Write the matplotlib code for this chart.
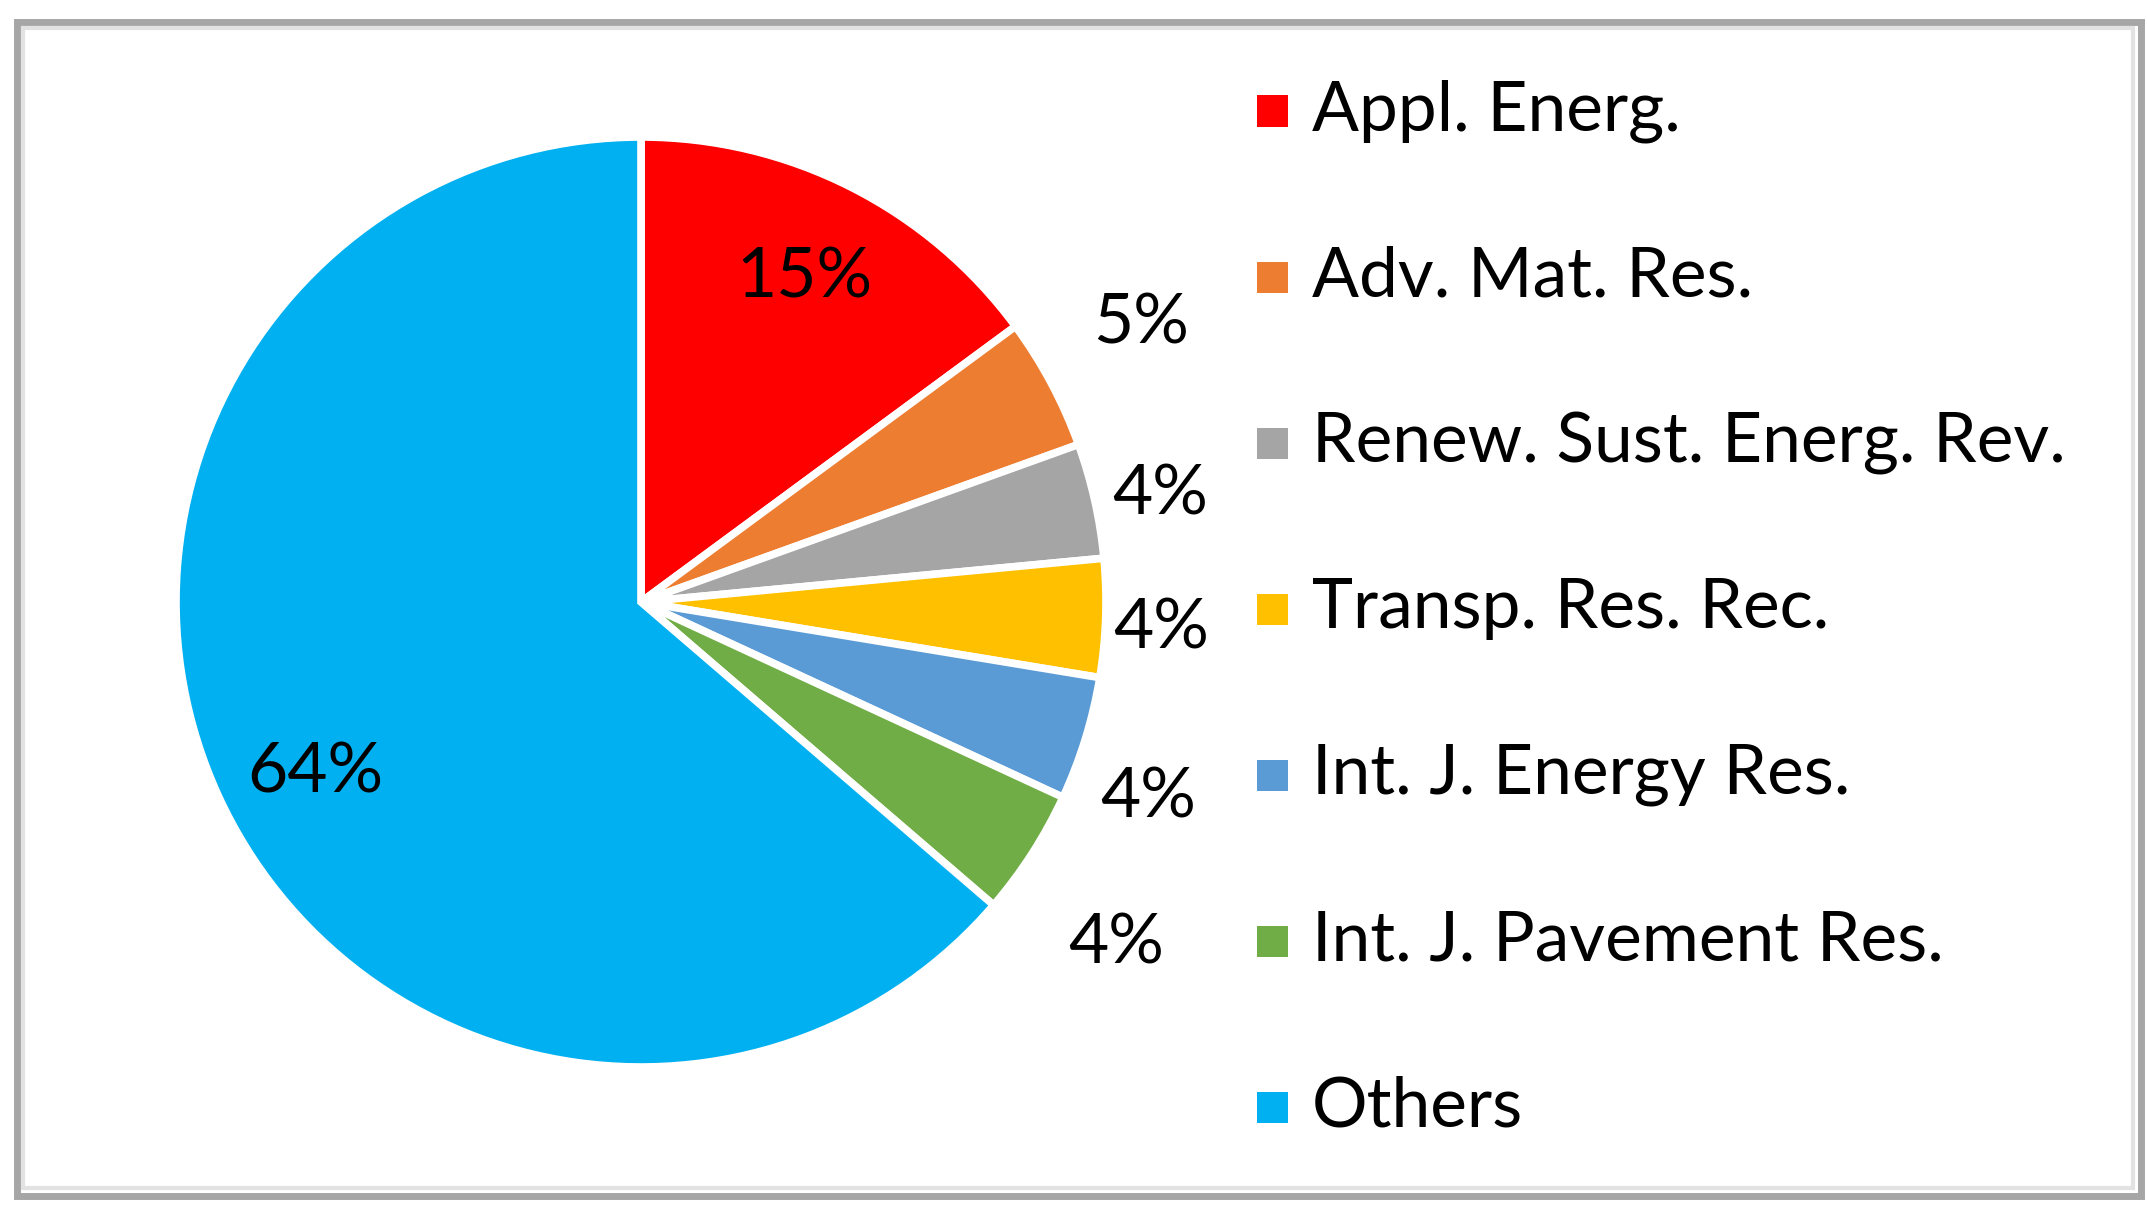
import numpy as np
import matplotlib
matplotlib.use("Agg")
import matplotlib.pyplot as plt
from matplotlib.patches import Rectangle

categories = ["Appl. Energ.", "Adv. Mat. Res.", "Renew. Sust. Energ. Rev.",
              "Transp. Res. Rec.", "Int. J. Energy Res.", "Int. J. Pavement Res.", "Others"]
shares = [14.9, 4.6, 4.0, 4.1, 4.3, 4.4, 63.7]
pct_labels = ["15%", "5%", "4%", "4%", "4%", "4%", "64%"]
colors = ["#FF0000", "#ED7D31", "#A5A5A5", "#FFC000", "#5B9BD5", "#70AD47", "#00B0F0"]

W, H = 2147, 1218
FS = 50
plt.rcParams['font.family'] = ['Lato', 'DejaVu Sans']
fig = plt.figure(figsize=(W / 100, H / 100), dpi=100)

# pie
cx, cy, R = 641, 602, 465
ax = fig.add_axes([(cx - R) / W, (H - cy - R) / H, 2 * R / W, 2 * R / H])
wedges, _ = ax.pie(shares, colors=colors, startangle=90, counterclock=False, radius=1,
                   wedgeprops=dict(edgecolor="white", linewidth=5.5))
ax.set_xlim(-1, 1)
ax.set_ylim(-1, 1)
ax.set_aspect("equal")
ax.axis("off")

label_r = [0.78, 1.23, 1.14, 1.12, 1.17, 1.26, 0.79]
label_dang = [0, 1, -1, -1, -4, -3, 3]
for w, lab, r, da in zip(wedges, pct_labels, label_r, label_dang):
    ang = np.deg2rad((w.theta1 + w.theta2) / 2 + da)
    ax.text(r * np.cos(ang), r * np.sin(ang), lab, ha="center", va="center",
            fontsize=FS, color="black", clip_on=False)

# legend (manual)
row_y0, row_dy = 111, 166
sq = 31
for i, (lab, col) in enumerate(zip(categories, colors)):
    yc = row_y0 + i * row_dy
    fig.patches.append(Rectangle((1257 / W, (H - yc - sq / 2) / H), sq / W, sq / H,
                                 transform=fig.transFigure, facecolor=col, edgecolor="none"))
    fig.text(1312 / W, (H - yc) / H, lab, ha="left", va="center", fontsize=FS, color="black")

# frame
fig.patches.append(Rectangle((16.5 / W, (H - 1196) / H), (2141 - 16.5) / W, (1196 - 21.5) / H,
                             transform=fig.transFigure, facecolor="none",
                             edgecolor="#A6A6A6", linewidth=5))
fig.patches.append(Rectangle((23 / W, (H - 1188) / H), (2133 - 23) / W, (1188 - 28) / H,
                             transform=fig.transFigure, facecolor="none",
                             edgecolor="#E2E2E2", linewidth=3))

fig.savefig("out.png", dpi=100, facecolor="white")
